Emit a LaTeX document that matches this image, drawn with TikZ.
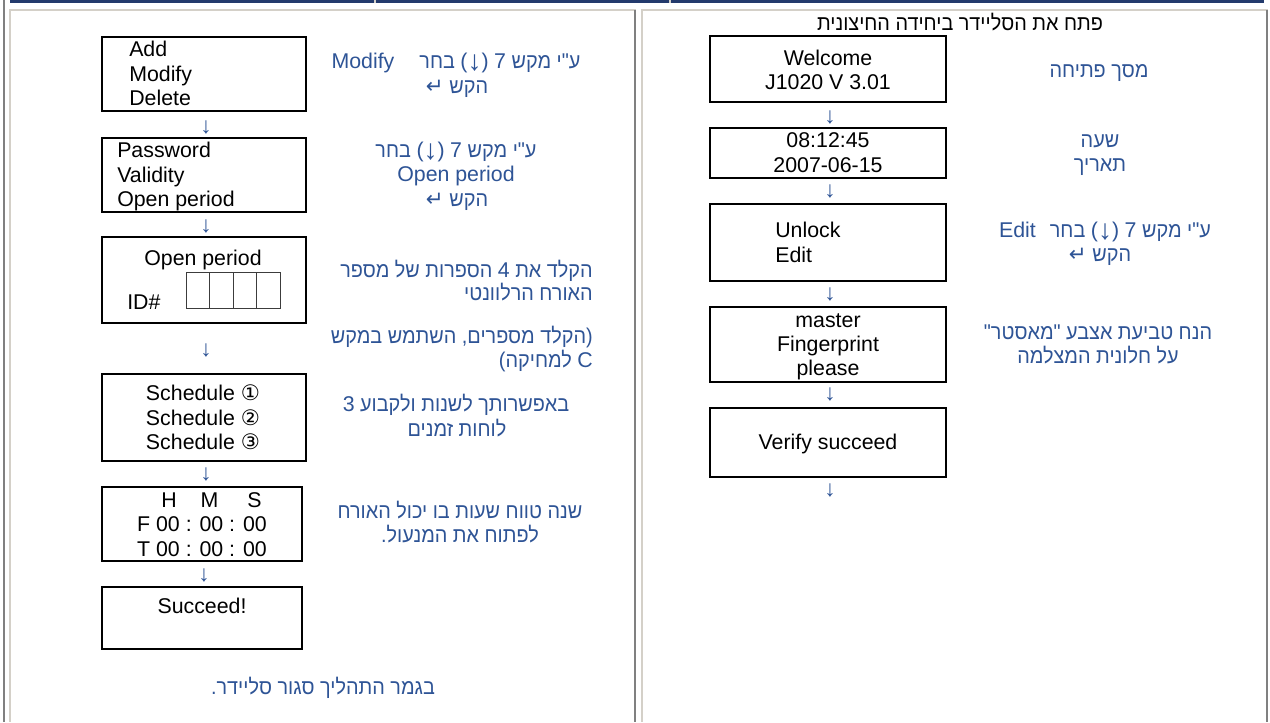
\documentclass[tikz,border=0pt]{standalone}
\usepackage{fontspec}
\setmainfont{Liberation Sans}
\newfontfamily\heb[Script=Hebrew,Ligatures=TeXOff,FakeStretch=0.93]{Liberation Sans}
\newfontfamily\dejavu{DejaVu Sans}
\TeXXeTstate=1
\definecolor{noteblue}{RGB}{46,84,150}
\definecolor{navybar}{RGB}{35,58,108}
\definecolor{beige}{RGB}{212,208,200}
\definecolor{framegray}{RGB}{128,128,128}
\definecolor{idgray}{RGB}{60,60,60}
\newcommand\szn{\fontsize{16pt}{18.4pt}\selectfont}
\newcommand\arrsz{\fontsize{17pt}{19pt}\selectfont}
\newcommand\retkey{{\fontsize{16pt}{18pt}\selectfont\dejavu ↵}}
% down arrow inside a line of text, centred on the parentheses
\newcommand\darr{\setbox0\hbox{\fontsize{21pt}{21pt}\selectfont\rmfamily ↓}%
  \raisebox{\dimexpr -1.7pt-(\ht0-\dp0)/2\relax}{\box0}}
\newcommand\lat[1]{\beginL{\rmfamily #1}\endL}
\newcommand\parr{\beginL{\rmfamily (\darr)}\endL}
\tikzset{
  screen/.style={draw=black, line width=1.5pt, inner sep=0pt},
  lcd/.style={font=\szn, text=black, inner sep=0pt},
  note/.style={font=\szn\heb, text=noteblue, inner sep=0pt},
  ttlstyle/.style={font=\szn\heb, text=black, inner sep=0pt},
  down/.style={font=\arrsz, text=noteblue, inner sep=0pt},
  idcell/.style={draw=idgray, line width=0.75pt, minimum width=17.625pt, minimum height=27pt, inner sep=0pt},
}
\begin{document}
\begin{tikzpicture}[x=0.75pt,y=-0.75pt]
\useasboundingbox (0,0) rectangle (1270,722);
% page and table frame
\fill[white] (0,0) rectangle (1270,722);
\fill[navybar] (10,0) rectangle (1264,2.5);
\fill[beige] (374,0) rectangle (376,2.5);
\fill[beige] (668.5,0) rectangle (670.5,2.5);
\fill[framegray] (2.7,0) rectangle (4.7,722);
\fill[beige] (9,9) rectangle (636,11);
\fill[beige] (9,9) rectangle (11,722);
\fill[framegray] (634,10) rectangle (636,722);
\fill[beige] (641,9) rectangle (1268,11);
\fill[beige] (641,9) rectangle (643,722);
\fill[framegray] (1266,10) rectangle (1268,722);

% ---------------- left column: screens ----------------
\node[screen, minimum width=153pt, minimum height=55.5pt] (b1) at (203.5,74) {};
\node[screen, minimum width=153pt, minimum height=55.5pt] (b2) at (203.5,175) {};
\node[screen, minimum width=153pt, minimum height=64.5pt] (b3) at (203.5,280) {};
\node[screen, minimum width=153pt, minimum height=65.25pt] (b4) at (203.5,417.5) {};
\node[screen, minimum width=150pt, minimum height=55.5pt] (b5) at (201.5,524) {};
\node[screen, minimum width=150pt, minimum height=46.5pt] (b6) at (201.5,618) {};

\node[lcd, anchor=base west] (b1a) at (129,56.5) {Add};
\node[lcd, anchor=base west] (b1b) at (129,81) {Modify};
\node[lcd, anchor=base west] (b1c) at (129,105.5) {Delete};

\node[lcd, anchor=base west] (b2a) at (117,157.5) {Password};
\node[lcd, anchor=base west] (b2b) at (117,182) {Validity};
\node[lcd, anchor=base west] (b2c) at (117,206.5) {Open period};

\node[lcd, anchor=base] (b3a) at (203,265) {Open period};
\node[lcd, anchor=base west] (b3b) at (127,309) {ID\#};
\node[idcell] (id1) at (197.75,290) {};
\node[idcell] (id2) at (221.25,290) {};
\node[idcell] (id3) at (244.75,290) {};
\node[idcell] (id4) at (268.25,290) {};

\node[lcd, anchor=base] (b4a) at (203,400.5) {Schedule {\dejavu ①}};
\node[lcd, anchor=base] (b4b) at (203,425) {Schedule {\dejavu ②}};
\node[lcd, anchor=base] (b4c) at (203,449.5) {Schedule {\dejavu ③}};

\node[lcd, anchor=base west] (b5a) at (161,507.5) {H\hspace{18pt}M\hspace{21.75pt}S};
\node[lcd, anchor=base] (b5b) at (202,531.5) {F 00 : 00 : 00};
\node[lcd, anchor=base] (b5c) at (202,556.5) {T 00 : 00 : 00};

\node[lcd, anchor=base] (b6a) at (202,613) {Succeed!};

\node[down] (a1) at (206,127) {↓};
\node[down] (a2) at (206,226) {↓};
\node[down] (a3) at (206,350) {↓};
\node[down] (a4) at (206,474) {↓};
\node[down] (a5) at (204,575) {↓};

% ---------------- left column: notes ----------------
\node[note, anchor=base] (n1a) at (456,68.5) {\beginR ע"י מקש \lat{7} \parr{} בחר\hspace{18.75pt}\lat{Modify}\endR};
\node[note, anchor=base] (n1b) at (457,93) {\beginR הקש \retkey\endR};
\node[note, anchor=base] (n2a) at (456,157) {\beginR ע"י מקש \lat{7} \parr{} בחר\endR};
\node[note, anchor=base] (n2b) at (456,181.5) {\rmfamily Open period};
\node[note, anchor=base] (n2c) at (457,206) {\beginR הקש \retkey\endR};
\node[note, anchor=base east] (n3a) at (593,277.5) {\beginR הקלד את \lat{4} הספרות של מספר\endR};
\node[note, anchor=base east] (n3b) at (593,300.5) {\beginR האורח הרלוונטי\endR};
\node[note, anchor=base east] (n4a) at (593,343.5) {\beginR (הקלד מספרים, השתמש במקש\endR};
\node[note, anchor=base east] (n4b) at (593,367.5) {\beginR \lat{C} למחיקה)\endR};
\node[note, anchor=base] (n5a) at (456,411) {\beginR באפשרותך לשנות ולקבוע \lat{3}\endR};
\node[note, anchor=base] (n5b) at (457,436) {\beginR לוחות זמנים\endR};
\node[note, anchor=base] (n6a) at (460,518) {\beginR שנה טווח שעות בו יכול האורח\endR};
\node[note, anchor=base] (n6b) at (460,542.5) {\beginR לפתוח את המנעול.\endR};
\node[note, anchor=base] (fin) at (323,694) {\beginR בגמר התהליך סגור סליידר.\endR};

% ---------------- right column: screens ----------------
\node[ttlstyle, anchor=base] (ttl) at (960,30) {\beginR פתח את הסליידר ביחידה החיצונית\endR};

\node[screen, minimum width=177pt, minimum height=49.5pt] (w1) at (828,69) {};
\node[screen, minimum width=177pt, minimum height=37.5pt] (w2) at (828,153) {};
\node[screen, minimum width=177pt, minimum height=57.75pt] (w3) at (828,242.5) {};
\node[screen, minimum width=177pt, minimum height=56.25pt] (w4) at (828,344.5) {};
\node[screen, minimum width=177pt, minimum height=51.75pt] (w5) at (828,442.5) {};

\node[lcd, anchor=base] (w1a) at (828,65) {Welcome};
\node[lcd, anchor=base] (w1b) at (828,89.5) {J1020 V 3.01};
\node[lcd, anchor=base] (w2a) at (828,147.5) {08:12:45};
\node[lcd, anchor=base] (w2b) at (828,172) {2007-06-15};
\node[lcd, anchor=base west] (w3a) at (775,237.5) {Unlock};
\node[lcd, anchor=base west] (w3b) at (775,262) {Edit};
\node[lcd, anchor=base] (w4a) at (828,327) {master};
\node[lcd, anchor=base] (w4b) at (828,351) {Fingerprint};
\node[lcd, anchor=base] (w4c) at (828,375) {please};
\node[lcd, anchor=base] (w5a) at (828,449.5) {Verify succeed};

\node[down] (r1) at (830,117.5) {↓};
\node[down] (r2) at (830,191.5) {↓};
\node[down] (r3) at (830,294.5) {↓};
\node[down] (r4) at (830,394) {↓};
\node[down] (r5) at (830,490) {↓};

% ---------------- right column: notes ----------------
\node[note, anchor=base] (m1) at (1099,77.5) {\beginR מסך פתיחה\endR};
\node[note, anchor=base] (m2a) at (1100,147) {\beginR שעה\endR};
\node[note, anchor=base] (m2b) at (1100,171) {\beginR תאריך\endR};
\node[note, anchor=base] (m3a) at (1105,237.5) {\beginR ע"י מקש \lat{7} \parr{} בחר\hspace{10.5pt}\lat{Edit}\endR};
\node[note, anchor=base] (m3b) at (1100,261) {\beginR הקש \retkey\endR};
\node[note, anchor=base] (m4a) at (1098,339) {\beginR הנח טביעת אצבע "מאסטר"\endR};
\node[note, anchor=base] (m4b) at (1098,363) {\beginR על חלונית המצלמה\endR};
\end{tikzpicture}
\end{document}
